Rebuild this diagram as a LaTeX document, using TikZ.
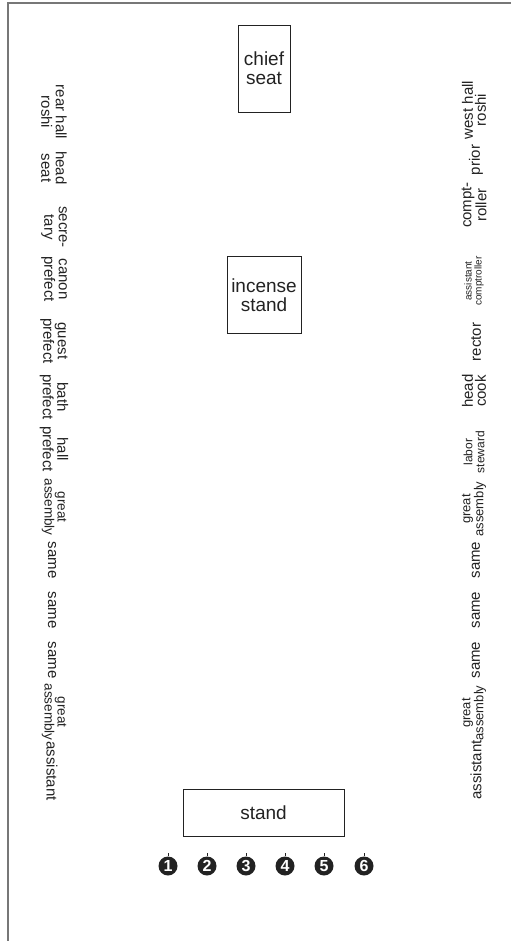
\documentclass[tikz,border=0pt]{standalone}
\usepackage{fontspec}
\setmainfont{Liberation Sans}
\begin{document}
\begin{tikzpicture}[x=1pt,y=-1pt]
\definecolor{ink}{HTML}{222222}
\definecolor{frame}{HTML}{777777}
\tikzset{
  boxnode/.style={draw=ink, line width=0.8pt, text=ink, align=center, inner sep=0pt},
  bigtext/.style={font=\fontsize{19}{19}\selectfont},
  leftlab/.style={rotate=-90, text=ink, align=center, inner sep=0pt, font=\fontsize{15}{14.5}\selectfont},
  rightlab/.style={rotate=90, text=ink, align=center, inner sep=0pt, font=\fontsize{15}{13}\selectfont},
  smalllab/.style={font=\fontsize{13.5}{13}\selectfont},
  tinylab/.style={font=\fontsize{10}{10}\selectfont},
  midlab/.style={font=\fontsize{13}{12}\selectfont},
  laborlab/.style={font=\fontsize{12}{12}\selectfont},
  numdot/.style={circle, fill=ink, text=white, inner sep=0pt, minimum size=19pt, font=\fontsize{16}{16}\bfseries\selectfont}
}
\useasboundingbox (0,0) rectangle (511,941);
% frame
\coordinate (ftl) at (8,3);
\coordinate (ftr) at (511,3);
\coordinate (fbl) at (8,941);
\draw[frame, line width=1.5pt] (fbl) -- (ftl) -- (ftr);
% boxes
\node[boxnode, bigtext, minimum width=52pt, minimum height=87pt] (chief) at (264,68.5) {chief\\seat};
\node[boxnode, bigtext, minimum width=74pt, minimum height=77pt] (incense) at (264,295) {incense\\stand};
\node[boxnode, bigtext, minimum width=161pt, minimum height=47pt] (stand) at (263.5,812.5) {stand};
% left labels
\node[leftlab] (l1) at (54,112) {rear hall\\roshi};
\node[leftlab] (l2) at (54,168) {head\\seat};
\node[leftlab] (l3) at (54,227) {secre-\\tary};
\node[leftlab] (l4) at (54,279) {canon\\prefect};
\node[leftlab] (l5) at (54,341) {guest\\prefect};
\node[leftlab] (l6) at (54,397) {bath\\prefect};
\node[leftlab] (l7) at (54,449) {hall\\prefect};
\node[leftlab, smalllab] (l8) at (54,507) {great\\assembly};
\node[leftlab] (l9) at (52,560) {same};
\node[leftlab] (l10) at (52,610) {same};
\node[leftlab] (l11) at (52,660) {same};
\node[leftlab, smalllab] (l12) at (54,712) {great\\assembly};
\node[leftlab] (l13) at (52,771) {assistant};
% right labels
\node[rightlab] (r1) at (474,110) {west hall\\roshi};
\node[rightlab] (r2) at (476,160) {prior};
\node[rightlab] (r3) at (474,205) {compt-\\roller};
\node[rightlab, tinylab] (r4) at (474,281) {assistant\\comptroller};
\node[rightlab] (r5) at (476,342) {rector};
\node[rightlab] (r6) at (474,391) {head\\cook};
\node[rightlab, laborlab] (r7) at (474,452) {labor\\steward};
\node[rightlab, midlab] (r8) at (474,509) {great\\assembly};
\node[rightlab] (r9) at (476,560) {same};
\node[rightlab] (r10) at (476,610) {same};
\node[rightlab] (r11) at (476,660) {same};
\node[rightlab, midlab] (r12) at (474,713) {great\\assembly};
\node[rightlab] (r13) at (476,770) {assistant};
% numbered markers
\foreach \i/\x in {1/168,2/207,3/246,4/285,5/324,6/364}{
  \node[numdot] (n\i) at (\x,866) {\i};
  \draw[ink, line width=0.8pt] (n\i.north) -- ++(0,-3);
}
\end{tikzpicture}
\end{document}
